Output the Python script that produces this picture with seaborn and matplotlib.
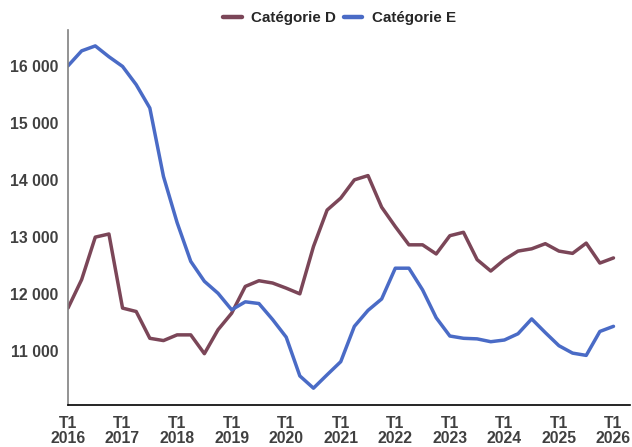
import numpy as np
import pandas as pd
import matplotlib
matplotlib.use("Agg")
import matplotlib.pyplot as plt
import seaborn as sn
from matplotlib.lines import Line2D

# quarterly data, T1 2016 -> T1 2026
years = list(range(2016, 2027))
quarters = [f"{y}-T{q}" for y in years for q in range(1, 5)][:41]

cat_d = [11750, 12250, 12995, 13050, 11750, 11690, 11220, 11180,
         11280, 11280, 10950, 11370, 11660, 12130, 12230, 12190,
         12100, 12000, 12830, 13470, 13680, 14000, 14075, 13520,
         13180, 12860, 12860, 12700, 13020, 13080, 12600, 12400,
         12600, 12750, 12790, 12880, 12750, 12710, 12890, 12540,
         12630]
cat_e = [16000, 16263, 16350, 16160, 15990, 15670, 15260, 14060,
         13250, 12570, 12220, 12010, 11720, 11860, 11830, 11550,
         11240, 10560, 10345, 10580, 10810, 11430, 11710, 11910,
         12450, 12450, 12070, 11580, 11260, 11220, 11210, 11160,
         11190, 11300, 11560, 11320, 11090, 10960, 10920, 11340,
         11430]

series_names = ["Catégorie D", "Catégorie E"]
colors = {"Catégorie D": "#7B4658", "Catégorie E": "#4A6BC6"}

df = pd.DataFrame({"idx": np.arange(len(quarters)), "quarter": quarters,
                   "Catégorie D": cat_d, "Catégorie E": cat_e})
long_df = df.melt(id_vars=["idx", "quarter"], value_vars=series_names,
                  var_name="serie", value_name="valeur")

sn.set_style("white")
plt.rcParams['font.family'] = ['Liberation Sans', 'DejaVu Sans']
fs = 11.3

fig = plt.figure(figsize=(6.32, 4.47), dpi=100)
ax = fig.add_axes([0.1076, 0.094, 0.889, 0.839])

sn.lineplot(data=long_df, x="idx", y="valeur", hue="serie", palette=colors,
            linewidth=2.5, ax=ax, legend=False)

ax.set_xlim(0, 41.2)
ax.set_ylim(10050, 16630)
ax.set_yticks([11000, 12000, 13000, 14000, 15000, 16000])
ax.set_yticklabels([f"{v:,}".replace(",", " ") for v in ax.get_yticks().astype(int)])
ax.set_xticks(np.arange(0, 41, 4))
ax.set_xticklabels([f"T1\n{y}" for y in years], linespacing=1.0)
ax.set_xlabel("")
ax.set_ylabel("")

for lab in ax.get_xticklabels() + ax.get_yticklabels():
    lab.set_fontweight("bold")
    lab.set_color("#404040")
    lab.set_fontsize(fs)

ax.tick_params(axis='x', direction='out', length=5, width=1, color='black', pad=3)
ax.tick_params(axis='y', direction='out', length=4, width=1, color='#808080', pad=3)
ax.spines['top'].set_visible(False)
ax.spines['right'].set_visible(False)
ax.spines['left'].set_color('#808080')
ax.spines['bottom'].set_color('black')
ax.spines['left'].set_linewidth(1.2)
ax.spines['bottom'].set_linewidth(1.2)

handles = [Line2D([0], [0], color=colors[s], lw=3.2) for s in series_names]
leg = fig.legend(handles, series_names, loc='upper center', bbox_to_anchor=(0.537, 1.005),
                 ncol=2, frameon=False, handlelength=1.25, columnspacing=0.5,
                 handletextpad=0.6, prop={'weight': 'bold', 'size': 10.9})
for t in leg.get_texts():
    t.set_color("#262626")

fig.savefig("out.png", dpi=100)
